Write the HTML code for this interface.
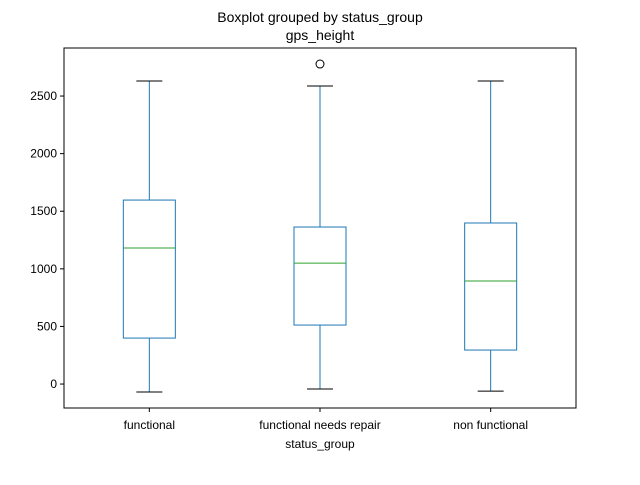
<!DOCTYPE html>
<html><head><meta charset="utf-8"><style>
body{margin:0;background:#fff;}
svg{font-family:"Liberation Sans",sans-serif;}
</style></head><body>
<svg id="chart" width="640" height="480" xmlns="http://www.w3.org/2000/svg">
<text x="320" y="22" font-size="14" text-anchor="middle">Boxplot grouped by status_group</text>
<text x="320" y="40" font-size="14" text-anchor="middle">gps_height</text>
<g id="marks"></g>
<rect x="64" y="48" width="512" height="360" fill="none" stroke="#000" stroke-width="1"/>
<text x="320" y="448" font-size="12" text-anchor="middle">status_group</text>
</svg>
<script>
const categories=["functional","functional needs repair","non functional"];
const whiskerLow=[-69,-43,-61];
const q1=[399,512,295];
const medians=[1181,1050,894];
const q3=[1597,1363,1398];
const whiskerHigh=[2630,2587,2630];
const outliers=[[],[2778],[]];
const yTicks=[0,500,1000,1500,2000,2500];
const yMin=-208,yMax=2917;
const NS="http://www.w3.org/2000/svg";
const g=document.getElementById('marks');
function y(v){return 408-(v-yMin)/(yMax-yMin)*360;}
function x(i){return 64+512*(i+0.5)/categories.length;}
function el(tag,attrs,parent){const e=document.createElementNS(NS,tag);for(const k in attrs)e.setAttribute(k,attrs[k]);(parent||g).appendChild(e);return e;}
yTicks.forEach(t=>{
  const l=el('line',{x1:60,x2:64,y1:y(t),y2:y(t),stroke:'#000'});
  
  
  const tx=el('text',{x:57,y:y(t)+4,'font-size':12,'text-anchor':'end'});
  tx.textContent=t;
  
  
});
categories.forEach((c,i)=>{
  const cx=x(i),bw=26,cw=13,col='#1f77b4';
  const b=el('g',{});
  
  
  el('line',{x1:cx,x2:cx,y1:y(whiskerLow[i]),y2:y(q1[i]),stroke:col},b);
  el('line',{x1:cx,x2:cx,y1:y(q3[i]),y2:y(whiskerHigh[i]),stroke:col},b);
  el('line',{x1:cx-cw,x2:cx+cw,y1:y(whiskerLow[i]),y2:y(whiskerLow[i]),stroke:'#000'},b);
  el('line',{x1:cx-cw,x2:cx+cw,y1:y(whiskerHigh[i]),y2:y(whiskerHigh[i]),stroke:'#000'},b);
  el('rect',{x:cx-bw,y:y(q3[i]),width:2*bw,height:y(q1[i])-y(q3[i]),fill:'none',stroke:col},b);
  el('line',{x1:cx-bw,x2:cx+bw,y1:y(medians[i]),y2:y(medians[i]),stroke:'#2ca02c'},b);
  outliers[i].forEach(o=>{
    const p=el('circle',{cx:cx,cy:y(o),r:4,fill:'none',stroke:'#000'},b);
    
    
  });
  const tk=el('line',{x1:cx,x2:cx,y1:408,y2:412,stroke:'#000'});
  
  
  const t=el('text',{x:cx,y:429,'font-size':12,'text-anchor':'middle'});
  t.textContent=c;
  
  
});
</script>
</body></html>
